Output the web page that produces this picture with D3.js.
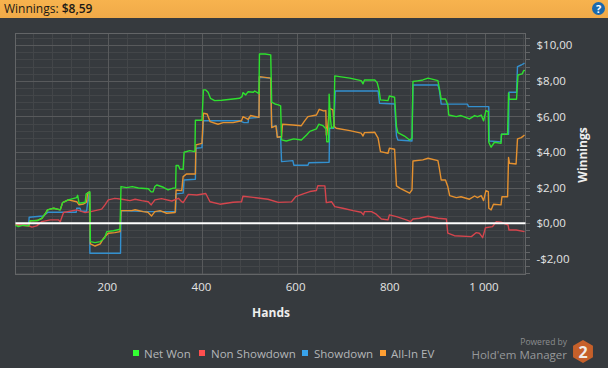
<!DOCTYPE html>
<html lang="en">
<head>
  <meta charset="UTF-8">
  <title>Winnings</title>
  <script src="https://d3js.org/d3.v7.min.js"></script>
  <style>
    html, body { margin: 0; padding: 0; background: #363a3e; overflow: hidden; }
    text { font-family: "Open Sans", "Noto Sans", sans-serif; }
    .axis path, .axis line { shape-rendering: crispEdges; }
  </style>
</head>
<body>
  <div id="chart"></div>
  <script>
    // [hand, dollars]
    const netWon = [[3,-0.10],[9,-0.19],[19,-0.11],[31,-0.15],[34,0.13],[49,0.15],[59,0.28],[67,0.56],[71,0.75],[84,0.84],[98,0.75],[103,1.16],[115,1.31],[133,1.44],[135,1.57],[138,1.12],[151,1.18],[153,1.65],[161,1.76],[162,-1.03],[172,-1.09],[183,-1.03],[192,-0.84],[197,-0.47],[211,-0.42],[225,-0.34],[227,2.06],[239,2.00],[251,2.06],[264,1.98],[285,1.94],[291,1.76],[295,1.76],[299,2.06],[303,2.15],[317,2.02],[327,1.87],[338,1.97],[343,1.98],[344,3.24],[349,3.24],[352,3.05],[359,3.03],[361,3.99],[373,4.08],[384,4.02],[385,5.79],[399,5.79],[402,7.49],[407,7.49],[412,7.36],[417,7.02],[426,6.89],[441,6.91],[465,6.98],[479,7.02],[484,7.11],[486,7.34],[492,7.21],[497,7.39],[508,7.36],[511,7.43],[520,7.28],[521,9.51],[533,9.51],[545,9.46],[547,6.80],[554,6.70],[561,6.65],[566,6.59],[568,4.68],[578,4.62],[594,4.74],[610,4.68],[621,4.96],[628,5.16],[642,5.30],[647,5.56],[656,5.48],[663,5.28],[664,4.58],[668,4.58],[669,7.25],[672,5.80],[674,5.34],[679,5.43],[681,8.28],[691,8.24],[713,8.15],[737,8.01],[741,7.83],[744,8.05],[766,8.05],[771,7.90],[775,7.49],[778,6.93],[794,6.89],[797,7.15],[808,7.08],[812,5.43],[815,5.09],[829,4.90],[840,4.68],[845,4.78],[847,7.96],[857,8.00],[868,8.05],[879,8.15],[900,8.01],[903,7.58],[907,6.98],[916,6.98],[921,6.65],[923,6.08],[939,5.99],[949,6.05],[967,5.86],[978,6.05],[984,5.99],[992,6.08],[997,5.75],[1002,6.33],[1007,6.27],[1008,4.55],[1013,4.27],[1020,4.55],[1034,4.49],[1035,5.00],[1048,5.00],[1050,7.32],[1051,6.97],[1067,6.97],[1070,8.33],[1079,8.39],[1082,8.57],[1085,8.59]];

    const nonShowdown = [[3,-0.10],[27,-0.10],[38,-0.22],[48,-0.15],[59,0.09],[77,0.19],[94,0.19],[98,0.09],[105,0.60],[133,0.75],[151,0.60],[163,0.65],[186,0.79],[193,1.03],[200,1.31],[214,1.40],[229,1.35],[246,1.27],[257,1.35],[271,1.27],[285,1.21],[291,1.03],[299,1.31],[313,1.38],[335,1.25],[349,1.40],[356,1.21],[359,1.16],[370,1.62],[388,1.59],[407,1.67],[416,1.21],[437,1.07],[465,1.18],[483,1.21],[486,1.52],[508,1.45],[539,1.35],[561,1.17],[589,1.20],[598,1.49],[614,1.65],[628,1.78],[642,1.84],[645,2.11],[660,2.10],[663,1.16],[674,1.21],[681,0.93],[698,0.84],[720,0.71],[737,0.62],[742,0.47],[744,0.65],[759,0.65],[769,0.51],[780,0.24],[794,0.19],[797,0.47],[812,0.37],[833,0.19],[842,0.09],[847,0.24],[861,0.28],[879,0.39],[900,0.28],[918,0.24],[921,-0.56],[935,-0.70],[971,-0.75],[981,-0.53],[988,-0.56],[995,-0.81],[1001,-0.25],[1016,-0.19],[1024,0.09],[1034,0.06],[1049,-0.10],[1051,-0.38],[1066,-0.38],[1084,-0.47]];

    const showdown = [[3,-0.10],[31,-0.10],[32,0.34],[62,0.41],[72,0.62],[132,0.62],[133,0.84],[140,0.84],[142,0.67],[154,0.67],[156,1.12],[160,1.72],[161,-1.69],[226,-1.69],[227,0.71],[282,0.65],[343,0.65],[344,1.65],[359,1.69],[361,2.43],[385,2.47],[386,4.21],[399,4.25],[402,5.76],[479,5.76],[488,5.65],[497,5.65],[498,5.90],[520,5.95],[521,8.20],[545,8.15],[547,5.43],[557,5.47],[559,4.83],[566,4.83],[568,3.46],[592,3.52],[594,3.26],[624,3.26],[626,3.40],[669,3.43],[670,5.34],[679,5.34],[682,7.43],[773,7.43],[776,6.74],[808,6.70],[812,4.90],[815,4.68],[845,4.62],[847,7.77],[900,7.77],[903,7.49],[907,6.69],[963,6.69],[965,6.55],[1008,6.55],[1009,4.62],[1034,4.57],[1035,5.00],[1050,5.00],[1051,7.36],[1067,7.36],[1069,8.80],[1077,8.89],[1084,8.99]];

    const allInEv = [[3,-0.10],[31,-0.15],[34,0.13],[49,0.15],[59,0.28],[67,0.56],[71,0.75],[84,0.84],[98,0.75],[103,1.16],[115,1.31],[133,1.21],[138,1.03],[147,1.08],[154,1.18],[156,1.69],[160,1.76],[162,-1.16],[172,-1.28],[183,-1.16],[190,-0.84],[200,-0.56],[214,-0.53],[225,-0.47],[227,0.71],[250,0.71],[257,0.76],[274,0.65],[284,0.62],[292,0.41],[299,0.65],[310,0.71],[324,0.56],[342,0.60],[344,1.87],[356,1.83],[359,2.62],[366,2.77],[385,2.77],[386,4.40],[399,4.49],[402,6.18],[410,6.14],[416,5.71],[433,5.56],[444,5.65],[465,5.65],[483,5.76],[486,5.99],[497,5.84],[502,6.05],[520,5.95],[521,8.24],[545,8.15],[547,5.37],[556,5.47],[559,4.83],[568,4.87],[570,5.56],[592,5.52],[610,5.48],[617,5.75],[624,5.99],[642,6.08],[648,6.40],[657,6.31],[662,6.33],[663,4.96],[664,4.96],[670,6.46],[677,6.37],[680,5.43],[684,5.34],[713,5.20],[737,5.06],[741,4.90],[744,5.09],[766,5.11],[773,4.78],[778,4.02],[794,3.93],[797,4.21],[808,4.16],[812,2.10],[819,1.97],[840,1.69],[845,1.87],[847,3.50],[868,3.56],[879,3.65],[900,3.52],[903,3.09],[907,2.43],[916,2.43],[921,2.06],[925,1.55],[939,1.44],[949,1.49],[967,1.35],[978,1.53],[984,1.44],[992,1.55],[997,1.27],[1002,1.83],[1007,1.78],[1008,0.84],[1013,0.75],[1018,1.07],[1034,1.03],[1036,1.49],[1048,1.49],[1050,3.69],[1052,3.37],[1066,3.33],[1069,4.74],[1077,4.81],[1084,4.96]];

    const xTicks = [200, 400, 600, 800, 1000];
    const xMinor = d3.range(40, 1081, 40);
    const yTicks = [-2, 0, 2, 4, 6, 8, 10];
    const yMinor = d3.range(-2.8, 10.5, 0.4);

    const width = 608, height = 368;
    const plot = { left: 15.5, right: 525.5, top: 33.5, bottom: 274.5 };

    const locale = d3.formatLocale({ decimal: ",", thousands: " ", grouping: [3], currency: ["$", ""], minus: "-" });

    const svg = d3.select("#chart")
      .append("svg")
      .attr("width", width)
      .attr("height", height)
      .style("display", "block");

    // header bar
    const grad = svg.append("defs").append("linearGradient")
      .attr("id", "bar").attr("x1", 0).attr("x2", 0).attr("y1", 0).attr("y2", 1);
    grad.append("stop").attr("offset", "0%").attr("stop-color", "#f7b34e");
    grad.append("stop").attr("offset", "100%").attr("stop-color", "#f0aa48");
    svg.append("rect").attr("width", width).attr("height", 18).attr("fill", "url(#bar)");

    const title = svg.append("text").attr("x", 4).attr("y", 13)
      .attr("font-size", 12).attr("fill", "#1c1a16");
    title.append("tspan").text("Winnings: ");
    title.append("tspan").attr("font-weight", 600).text("$8,59");

    svg.append("circle").attr("cx", 598.5).attr("cy", 8.5).attr("r", 6.5).attr("fill", "#1a69ad");
    svg.append("text").attr("x", 598.5).attr("y", 12.5).attr("text-anchor", "middle")
      .attr("font-size", 11).attr("font-weight", 700).attr("fill", "#fff").text("?");

    const x = d3.scaleLinear().domain([3, 1086]).range([plot.left, plot.right]);
    const y = d3.scaleLinear().domain([-2.88, 10.66]).range([plot.bottom, plot.top]);
    const plotW = plot.right - plot.left, plotH = plot.bottom - plot.top;

    // minor grid, then major grid on top
    const gridX = (ticks, color) => svg.append("g").attr("class", "axis")
      .attr("transform", `translate(0,${plot.bottom})`)
      .call(d3.axisBottom(x).tickValues(ticks).tickSize(-plotH).tickFormat(""))
      .call(g => g.select(".domain").remove())
      .call(g => g.selectAll("line").attr("stroke", color));
    const gridY = (ticks, color) => svg.append("g").attr("class", "axis")
      .attr("transform", `translate(${plot.right},0)`)
      .call(d3.axisRight(y).tickValues(ticks).tickSize(-plotW).tickFormat(""))
      .call(g => g.select(".domain").remove())
      .call(g => g.selectAll("line").attr("stroke", color));
    gridX(xMinor, "#434649");
    gridY(yMinor, "#434649");
    gridX(xTicks, "#585a5c");
    gridY(yTicks, "#585a5c");

    // plot frame
    svg.append("rect")
      .attr("x", plot.left).attr("y", plot.top).attr("width", plotW).attr("height", plotH)
      .attr("fill", "none").attr("stroke", "#636567").attr("shape-rendering", "crispEdges");

    // outer ticks and labels
    svg.append("g").attr("class", "axis")
      .attr("transform", `translate(${plot.right},0)`)
      .call(d3.axisRight(y).tickValues(yMinor.concat(yTicks)).tickSize(4).tickFormat(""))
      .call(g => g.select(".domain").remove())
      .call(g => g.selectAll("line").attr("stroke", "#636567"));

    svg.append("g").attr("class", "axis")
      .attr("transform", `translate(${plot.right},0)`)
      .call(d3.axisRight(y).tickValues(yTicks).tickSize(0).tickPadding(11).tickFormat(locale.format("$,.2f")))
      .call(g => g.select(".domain").remove())
      .call(g => g.selectAll("text").attr("fill", "#e4e4e4").attr("font-size", 11.5));

    svg.append("g").attr("class", "axis")
      .attr("transform", `translate(0,${plot.bottom})`)
      .call(d3.axisBottom(x).tickValues(xTicks).tickSize(0).tickPadding(8).tickFormat(locale.format(",d")))
      .call(g => g.select(".domain").remove())
      .call(g => g.selectAll("text").attr("fill", "#e4e4e4").attr("font-size", 11.5).attr("dx", -1.5));

    svg.append("text").attr("x", 271).attr("y", 317).attr("text-anchor", "middle")
      .attr("font-size", 12).attr("font-weight", 700).attr("fill", "#eee").text("Hands");
    svg.append("text").attr("transform", "translate(587,155) rotate(-90)").attr("text-anchor", "middle")
      .attr("font-size", 12).attr("font-weight", 700).attr("fill", "#eee").text("Winnings");

    // series
    const line = d3.line().x(d => x(d[0])).y(d => y(d[1]));
    const series = [
      { name: "Showdown", values: showdown, color: "#3390cf", key: "#38a3ec", sx: 302, tx: 314 },
      { name: "All-In EV", values: allInEv, color: "#e5912f", key: "#ff9f33", sx: 380, tx: 391 },
      { name: "Non Showdown", values: nonShowdown, color: "#d5454d", key: "#ff4f4f", sx: 199, tx: 211 },
      { name: "Net Won", values: netWon, color: "#2ee02e", key: "#33ff33", sx: 133, tx: 144 }
    ];

    svg.selectAll(".series")
      .data(series)
      .join("path")
      .attr("class", "series")
      .attr("fill", "none")
      .attr("stroke", d => d.color)
      .attr("stroke-width", 1.4)
      .attr("stroke-linejoin", "round")
      .attr("d", d => line(d.values));

    // zero line
    svg.append("line")
      .attr("x1", plot.left).attr("x2", plot.right)
      .attr("y1", y(0)).attr("y2", y(0))
      .attr("stroke", "#fff").attr("stroke-width", 2);

    // legend
    const legend = svg.selectAll(".key").data(series).join("g").attr("class", "key");
    legend.append("rect")
      .attr("x", d => d.sx).attr("y", 350).attr("width", 6).attr("height", 6)
      .attr("fill", d => d.key);
    legend.append("text")
      .attr("x", d => d.tx).attr("y", 358)
      .attr("font-size", 11.5).attr("fill", "#b4b6b8")
      .text(d => d.name);

    // branding
    svg.append("text").attr("x", 567).attr("y", 345).attr("text-anchor", "end")
      .attr("font-size", 8.5).attr("fill", "#8b8d8f").text("Powered by");
    svg.append("text").attr("x", 567).attr("y", 358.5).attr("text-anchor", "end")
      .attr("font-size", 11.5).attr("fill", "#97999b").text("Hold'em Manager");
    const hex = d3.range(6).map(i => {
      const a = Math.PI / 3 * i + Math.PI / 6;
      return [583 + 11.5 * Math.cos(a), 351.5 + 11.5 * Math.sin(a)].join(",");
    }).join(" ");
    svg.append("polygon").attr("points", hex).attr("fill", "#c6602a");
    svg.append("text").attr("x", 583).attr("y", 357.5).attr("text-anchor", "middle")
      .attr("font-size", 16).attr("font-weight", 700).attr("fill", "#f0ece8").text("2");
  </script>
</body>
</html>
